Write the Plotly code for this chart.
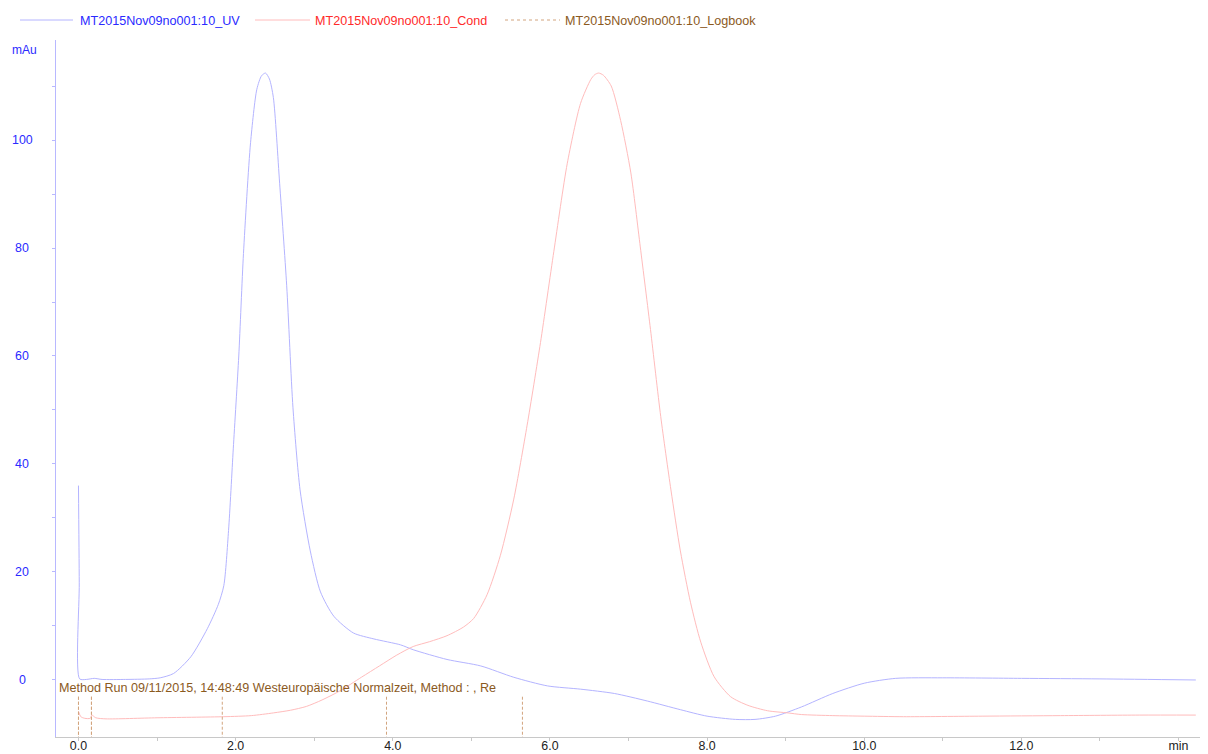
import plotly.graph_objects as go

# ---------------- data ----------------
uv_t = [0.0, 0.01, 0.015, 0.1, 0.2, 0.3, 0.6, 0.9, 1.04, 1.21, 1.43, 1.64, 1.78, 1.85,
        1.91, 1.97, 2.04, 2.10, 2.19, 2.27, 2.33, 2.38, 2.43, 2.48, 2.56, 2.65, 2.73,
        2.82, 2.95, 3.08, 3.25, 3.5, 3.76, 4.1, 4.26, 4.69, 5.12, 5.54, 5.97, 6.39,
        6.82, 7.24, 7.66, 8.0, 8.36, 8.61, 8.87, 9.2, 9.6, 10.0, 10.4, 11.0, 12.0,
        13.0, 14.22]
uv_v = [36.0, 18.0, 0.2, 0.1, 0.3, 0.1, 0.1, 0.2, 0.4, 1.2, 4.3, 9.5, 14.0, 17.5,
        27.7, 42.8, 60.0, 79.0, 99.5, 109.4, 111.9, 112.4, 111.3, 107.9, 92.0, 73.0, 50.4,
        35.2, 23.9, 16.3, 11.8, 8.7, 7.6, 6.5, 5.6, 3.8, 2.6, 0.5, -1.1, -1.7,
        -2.5, -3.9, -5.5, -6.7, -7.3, -7.3, -6.7, -5.0, -2.5, -0.6, 0.3, 0.4, 0.3,
        0.2, 0.0]

cond_t = [0.0, 0.03, 0.08, 0.15, 0.17, 0.22, 0.35, 1.0, 1.85, 2.2, 2.48, 2.7, 2.9, 3.1,
          3.33, 3.6, 3.83, 4.05, 4.26, 4.47, 4.69, 4.9, 5.03, 5.2, 5.37, 5.54, 5.71,
          5.88, 6.05, 6.22, 6.39, 6.52, 6.57, 6.62, 6.68, 6.78, 6.9, 7.03, 7.15, 7.28,
          7.41, 7.54, 7.66, 7.79, 7.92, 8.09, 8.3, 8.52, 8.77, 9.03, 9.2, 9.6, 10.0,
          10.5, 11.5, 12.5, 13.5, 14.22]
cond_v = [-5.8, -6.8, -7.1, -7.1, -6.5, -7.0, -7.2, -7.0, -6.8, -6.6, -6.1, -5.6, -4.9, -3.7,
          -2.0, 0.5, 2.6, 4.6, 6.2, 7.1, 8.2, 9.8, 11.4, 15.8, 23.1, 33.5, 47.2,
          62.5, 79.4, 95.6, 106.8, 111.2, 112.1, 112.4, 112.0, 110.0, 103.6, 93.9, 80.2, 64.9,
          48.8, 35.2, 23.9, 14.3, 7.0, 0.6, -3.1, -4.7, -5.7, -6.1, -6.4, -6.6, -6.7,
          -6.8, -6.7, -6.6, -6.5, -6.5]

log_t = [0.0, 0.0, 0.165, 0.165, 1.83, 3.92, 5.65]
log_top = -3.1
log_text = "Method Run 09/11/2015, 14:48:49 Westeuropäische Normalzeit, Method : , Re"

series_names = ["MT2015Nov09no001:10_UV", "MT2015Nov09no001:10_Cond",
                "MT2015Nov09no001:10_Logbook"]

x_tickvals = [0, 2, 4, 6, 8, 10, 12, 14]
x_ticktext = ["0.0", "2.0", "4.0", "6.0", "8.0", "10.0", "12.0", "min"]
y_tickvals = [0, 20, 40, 60, 80, 100]
y_ticktext = ["0", "20", "40", "60", "80", "100"]

x_range = [-0.286, 14.375]
y_range = [-10.56, 118.52]

# ---------------- styles ----------------
UV_COL = "#b4b4ff"
COND_COL = "#ffbcbc"
LOG_COL = "#d2a47e"
UV_TXT = "#2a2aff"
COND_TXT = "#ff2a2a"
LOG_TXT = "#8b5a1e"
FONT = "Liberation Sans, Arial, sans-serif"

fig = go.Figure()

fig.add_trace(go.Scatter(x=uv_t, y=uv_v, mode="lines", name=series_names[0],
                         line=dict(color=UV_COL, width=1, shape="spline", smoothing=0.7),
                         showlegend=False))
fig.add_trace(go.Scatter(x=cond_t, y=cond_v, mode="lines", name=series_names[1],
                         line=dict(color=COND_COL, width=1, shape="spline", smoothing=0.7),
                         showlegend=False))

lx, ly = [], []
for t in log_t:
    lx += [t, t, None]
    ly += [log_top, y_range[0], None]
fig.add_trace(go.Scatter(x=lx, y=ly, mode="lines", name=series_names[2],
                         line=dict(color=LOG_COL, width=1, dash="3px,2px"),
                         showlegend=False))

# ---------------- layout ----------------
# the page body has an 8px margin, so the figure is 8px smaller than the window
OFF = 8
W, H = 1200, 746
ml, mr, mt, mb = 48, 0, 32, 17
pw, ph = W - ml - mr, H - mt - mb


def px_x(p):  # page pixel -> paper x
    return (p - OFF - ml) / pw


def px_y(p):  # page pixel -> paper y
    return (H - mb - (p - OFF)) / ph


annotations = []
shapes = []

# legend row
leg_items = [(20, 73, 78, series_names[0], UV_COL, UV_TXT, "solid"),
             (255, 310, 313, series_names[1], COND_COL, COND_TXT, "solid"),
             (505, 560, 563, series_names[2], LOG_COL, LOG_TXT, "dot")]
for x0, x1, xt, name, lc, tc, dash in leg_items:
    shapes.append(dict(type="line", xref="paper", yref="paper",
                       x0=px_x(x0), x1=px_x(x1), y0=px_y(20), y1=px_y(20),
                       line=dict(color=lc, width=1, dash=dash)))
    annotations.append(dict(text=name, xref="paper", yref="paper", x=px_x(xt), y=px_y(21),
                            xanchor="left", yanchor="middle", showarrow=False,
                            font=dict(color=tc, size=12.6, family=FONT)))

# y tick labels (centered, blue)
for v, t in zip(y_tickvals, y_ticktext):
    annotations.append(dict(text=t, xref="paper", yref="y", x=0, xshift=-34, y=v,
                            xanchor="center", yanchor="middle", showarrow=False,
                            font=dict(color=UV_TXT, size=12.4, family=FONT)))
annotations.append(dict(text="mAu", xref="paper", yref="paper", x=0, xshift=-32, y=px_y(50),
                        xanchor="center", yanchor="middle", showarrow=False,
                        font=dict(color=UV_TXT, size=12, family=FONT)))

# logbook text
annotations.append(dict(text=log_text, xref="paper", yref="y", x=px_x(57), y=-1.5,
                        xanchor="left", yanchor="middle", showarrow=False,
                        font=dict(color=LOG_TXT, size=12.6, family=FONT)))

fig.update_layout(
    width=W, height=H,
    margin=dict(l=ml, r=mr, t=mt, b=mb, pad=0),
    paper_bgcolor="white", plot_bgcolor="white",
    showlegend=False,
    font=dict(family=FONT, size=12, color="#222222"),
    annotations=annotations, shapes=shapes,
    xaxis=dict(range=x_range, tickvals=x_tickvals, ticktext=x_ticktext,
               showgrid=False, zeroline=False, showline=True, linecolor="#c8c8c8",
               linewidth=1, ticks="outside", ticklen=3, tickcolor="#c8c8c8",
               ticklabelstandoff=-6, automargin=False,
               tickfont=dict(size=12.4, color="#222222", family=FONT),
               minor=dict(dtick=1, tick0=0, ticks="outside", ticklen=3, tickcolor="#c8c8c8",
                          showgrid=False)),
    yaxis=dict(range=y_range, tickvals=y_tickvals, showticklabels=False, automargin=False,
               showgrid=False, zeroline=False, showline=True, linecolor="#b8b8ff",
               linewidth=1, ticks="outside", ticklen=3, tickcolor="#b8b8ff",
               minor=dict(tickvals=[10, 30, 50, 70, 90, 110], ticks="outside", ticklen=3,
                          tickcolor="#b8b8ff", showgrid=False)),
)

fig.write_html("out.html")
